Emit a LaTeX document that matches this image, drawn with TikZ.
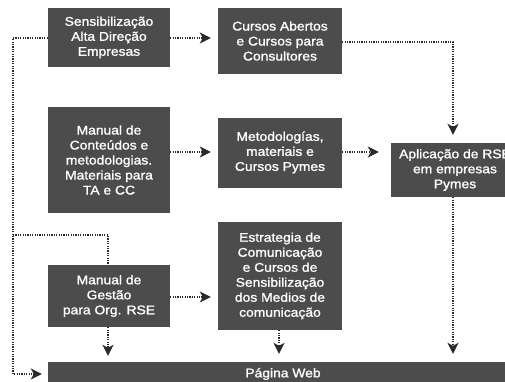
\documentclass[tikz,border=0pt]{standalone}
\usepackage{fontspec}
\setmainfont[FakeStretch=1.1,FakeBold=1.2]{Liberation Sans}
\usetikzlibrary{arrows.meta}
\definecolor{boxgray}{HTML}{4C4C4C}
\definecolor{linegray}{HTML}{2A2A2A}
\tikzset{
  blk/.style={fill=boxgray, draw=none, text=white, align=center, inner sep=0pt,
    font=\fontsize{12.6}{15}\selectfont},
  conn/.style={draw=linegray, line width=1.4pt, dash pattern=on 1.2pt off 1.2pt},
  arr/.style={conn, -{Stealth[length=11pt,width=11pt,inset=3pt]}}
}
\begin{document}
\begin{tikzpicture}[x=1pt,y=-1pt]
\useasboundingbox (0,0) rectangle (505,381);
\begin{scope}
\clip (0,0) rectangle (505,381);
\node[blk, minimum width=122pt, minimum height=59pt] (b1) at (109,37.5) {Sensibilização\\Alta Direção\\Empresas};
\node[blk, minimum width=124pt, minimum height=66pt] (b2) at (280,41) {Cursos Abertos\\e Cursos para\\Consultores};
\node[blk, minimum width=122pt, minimum height=106pt] (b3) at (109,160) {Manual de\\Conteúdos e\\metodologias.\\Materiais para\\TA e CC};
\node[blk, minimum width=124pt, minimum height=70pt] (b4) at (280,152.5) {Metodologías,\\materiais e\\Cursos Pymes};
\node[blk, minimum width=128pt, minimum height=54pt] (b5) at (455,170) {Aplicação de RSE\\em empresas\\Pymes};
\node[blk, minimum width=124pt, minimum height=108pt] (b6) at (280,276) {Estrategia de\\Comunicação\\e Cursos de\\Sensibilização\\dos Medios de\\comunicação};
\node[blk, minimum width=122pt, minimum height=62pt] (b7) at (109,296) {Manual de\\Gestão\\para Org. RSE};
\node[blk, minimum width=470pt, minimum height=24pt] (b8) at (283,374) {Página Web};
\end{scope}
\coordinate (l1) at (13,38);
\coordinate (l2) at (13,374);
\coordinate (l3) at (13,235);
\coordinate (l4) at (108,235);
\coordinate (r1) at (453,42);

\draw[arr, shorten >=6pt] (b1.west |- l1) -- (l1) -- (l2) -- (b8.west |- l2);
\draw[conn] (l3) -- (l4) -- (b7.north -| l4);
\draw[arr, shorten >=7pt] (b1.east |- l1) -- (b2.west |- l1);
\draw[arr, shorten >=8pt] (b2.east |- r1) -- (r1) -- (b5.north -| r1);
\draw[arr, shorten >=7pt] (b3.east |- 0,152) -- (b4.west |- 0,152);
\draw[arr, shorten >=12pt] (b4.east |- 0,152) -- (b5.west |- 0,152);
\draw[arr, shorten >=8pt] (b5.south -| r1) -- (b8.north -| r1);
\draw[arr, shorten >=7pt] (b7.east |- 0,297) -- (b6.west |- 0,297);
\draw[arr, shorten >=6pt] (b7.south -| l4) -- (b8.north -| l4);
\draw[arr, shorten >=8pt] (b6.south -| 279,0) -- (b8.north -| 279,0);
\end{tikzpicture}
\end{document}
